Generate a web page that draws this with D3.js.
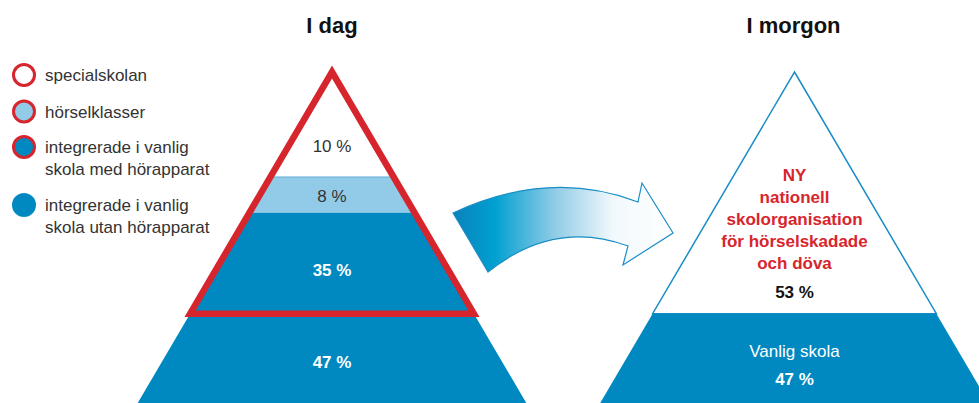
<!DOCTYPE html>
<meta charset="utf-8">
<style>

body {
  margin: 0;
  background: #fff;
}

svg {
  font-family: "Liberation Sans", Arial, sans-serif;
  display: block;
}

</style>
<body>
<script src="https://d3js.org/d3.v7.min.js"></script>
<script>

var titles = ["I dag", "I morgon"],
    todayLabels = ["specialskolan", "hörselklasser", "integrerade i vanlig skola med hörapparat", "integrerade i vanlig skola utan hörapparat"],
    todayShares = [10, 8, 35, 47],
    tomorrowLabels = ["NY nationell skolorganisation för hörselskadade och döva", "Vanlig skola"],
    tomorrowShares = [53, 47];

var legendLines = [
  ["specialskolan"],
  ["hörselklasser"],
  ["integrerade i vanlig", "skola med hörapparat"],
  ["integrerade i vanlig", "skola utan hörapparat"]
];
var tomorrowTopLines = ["NY", "nationell", "skolorganisation", "för hörselskadade", "och döva"];

</script>
<script>

var width = 979,
    height = 403,
    blue = "#0089c1",
    lightBlue = "#92cbe7",
    red = "#d7252d",
    ink = "#333";

var svg = d3.select("body").append("svg")
    .attr("width", width)
    .attr("height", height);

// area-proportional pyramid: cumulative share -> depth from apex
var y = d3.scaleSqrt().domain([0, 100]).range([72, 404]),
    slope = 0.587;

function band(cx, y0, y1) {
  var w0 = (y0 - y(0)) * slope, w1 = (y1 - y(0)) * slope;
  return [[cx - w0, y0], [cx + w0, y0], [cx + w1, y1], [cx - w1, y1]];
}

function cumulate(values) {
  var s = 0;
  return values.map(function(v) { var d = {v: v, a: s, b: s + v}; s += v; return d; });
}

var line = d3.line();

// ---- left pyramid ----
var leftX = 332,
    today = cumulate(todayShares),
    todayFill = ["#fff", lightBlue, blue, blue];

svg.append("g").selectAll("path")
  .data(today)
  .join("path")
    .attr("fill", function(d, i) { return todayFill[i]; })
    .attr("d", function(d) { return line(band(leftX, y(d.a), y(d.b))) + "Z"; });

svg.append("line")
    .attr("x1", leftX - (y(today[1].a) - y(0)) * slope)
    .attr("x2", leftX + (y(today[1].a) - y(0)) * slope)
    .attr("y1", y(today[1].a))
    .attr("y2", y(today[1].a))
    .attr("stroke", "#5eaed6")
    .attr("stroke-width", 1);

var redBase = y(today[2].b);
svg.append("path")
    .attr("fill", "none")
    .attr("stroke", red)
    .attr("stroke-width", 6.5)
    .attr("stroke-linejoin", "miter")
    .attr("d", line([[leftX, y(0)], [leftX + (redBase - y(0)) * slope, redBase], [leftX - (redBase - y(0)) * slope, redBase]]) + "Z");

svg.append("g").selectAll("text")
  .data(today)
  .join("text")
    .attr("x", leftX)
    .attr("y", function(d) { return y(d.a + d.v / 2); })
    .attr("dy", "0.35em")
    .attr("text-anchor", "middle")
    .attr("font-size", 17)
    .attr("font-weight", function(d, i) { return i > 1 ? "bold" : "normal"; })
    .attr("fill", function(d, i) { return i > 1 ? "#fff" : ink; })
    .text(function(d) { return d.v + " %"; });

// ---- right pyramid ----
var rightX = 794.5,
    tomorrow = cumulate(tomorrowShares);

svg.append("g").selectAll("path")
  .data(tomorrow)
  .join("path")
    .attr("fill", function(d, i) { return i ? blue : "#fff"; })
    .attr("stroke", function(d, i) { return i ? "none" : "#1a8dc6"; })
    .attr("stroke-width", 1.5)
    .attr("d", function(d) { return line(band(rightX, y(d.a), y(d.b))) + "Z"; });

var topBottom = y(tomorrow[0].b);
svg.append("g").selectAll("text")
  .data(tomorrowTopLines)
  .join("text")
    .attr("x", rightX)
    .attr("y", function(d, i) { return topBottom - 45 - (tomorrowTopLines.length - 1 - i) * 22; })
    .attr("text-anchor", "middle")
    .attr("font-size", 17)
    .attr("font-weight", "bold")
    .attr("fill", red)
    .text(function(d) { return d; });

svg.append("text")
    .attr("x", rightX)
    .attr("y", topBottom - 16)
    .attr("text-anchor", "middle")
    .attr("font-size", 17)
    .attr("font-weight", "bold")
    .attr("fill", "#111")
    .text(tomorrowShares[0] + " %");

var lowMid = y(tomorrow[1].a + tomorrow[1].v / 2);
svg.append("text")
    .attr("x", rightX)
    .attr("y", lowMid - 5)
    .attr("text-anchor", "middle")
    .attr("font-size", 17)
    .attr("fill", "#fff")
    .text(tomorrowLabels[1]);

svg.append("text")
    .attr("x", rightX)
    .attr("y", lowMid + 23)
    .attr("text-anchor", "middle")
    .attr("font-size", 17)
    .attr("font-weight", "bold")
    .attr("fill", "#fff")
    .text(tomorrowShares[1] + " %");

// ---- titles ----
svg.append("g").selectAll("text")
  .data(titles)
  .join("text")
    .attr("x", function(d, i) { return i ? rightX - 1 : leftX; })
    .attr("y", 33)
    .attr("text-anchor", "middle")
    .attr("font-size", 22)
    .attr("font-weight", "bold")
    .attr("fill", "#111")
    .text(function(d) { return d; });

// ---- arrow ----
var grad = svg.append("defs").append("linearGradient")
    .attr("id", "arrowGrad")
    .attr("gradientUnits", "userSpaceOnUse")
    .attr("x1", 455).attr("x2", 675).attr("y1", 0).attr("y2", 0);

grad.selectAll("stop")
  .data([[0, "#0a84ba"], [0.18, "#00a0d0"], [0.45, "#8fcbe6"], [0.72, "#f2f9fc"], [1, "#fff"]])
  .join("stop")
    .attr("offset", function(d) { return d[0]; })
    .attr("stop-color", function(d) { return d[1]; });

var ap = d3.path();
ap.moveTo(453, 213);
ap.quadraticCurveTo(550, 168, 638, 202);
ap.lineTo(642, 183);
ap.lineTo(673, 233);
ap.lineTo(623, 265);
ap.lineTo(628, 246);
ap.quadraticCurveTo(554, 219, 488, 272);
ap.quadraticCurveTo(468, 238, 453, 213);
ap.closePath();

svg.append("path")
    .attr("d", ap.toString())
    .attr("fill", "url(#arrowGrad)")
    .attr("stroke", "#1a8dc6")
    .attr("stroke-width", 1.2);

// ---- legend ----
var legendY = [75, 111.5, 147, 205],
    legendFill = ["#fff", lightBlue, blue, blue];

var item = svg.append("g").selectAll("g")
  .data(legendLines)
  .join("g")
    .attr("transform", function(d, i) { return "translate(24," + legendY[i] + ")"; });

item.append("circle")
    .attr("r", function(d, i) { return i < 3 ? 10.5 : 12; })
    .attr("fill", function(d, i) { return legendFill[i]; })
    .attr("stroke", function(d, i) { return i < 3 ? red : "none"; })
    .attr("stroke-width", 3);

item.append("text")
    .attr("x", 21)
    .attr("fill", ink)
    .attr("font-size", 17)
  .selectAll("tspan")
  .data(function(d) { return d; })
  .join("tspan")
    .attr("x", 21)
    .attr("y", function(d, i) { return 6 + i * 22; })
    .text(function(d) { return d; });

</script>
